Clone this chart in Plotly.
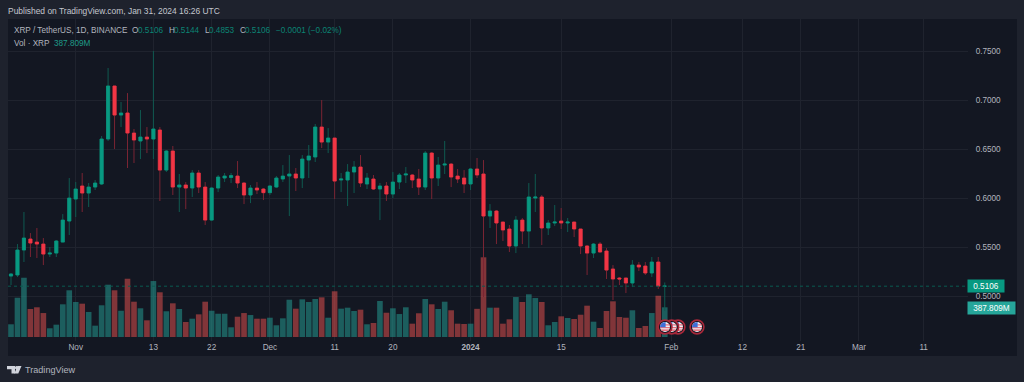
import pandas as pd
import plotly.graph_objects as go

W, H = 1024, 382
L, R, T, B = 8, 968, 19, 341

dates = pd.date_range("2023-10-22", "2024-01-31", freq="D")
open_ = [.5209,.5220,.5474,.5586,.5555,.5535,.5433,.5443,.5555,.5769,
 .5993,.6126,.6054,.6115,.6146,.6604,.7144,.6848,.6869,.6665,.6584,.6624,.6604,.6696,.6288,.6482,.6115,.6136,.6105,.6258,.6115,.5779,.6105,.6207,.6212,.6227,.6156,.6034,.6105,.6095,
 .6058,.6115,.6197,.6227,.6248,.6207,.6390,.6421,.6726,.6573,.6614,.6187,.6187,.6268,.6319,.6146,.6197,.6095,.6126,.6044,.6166,.6238,.6238,.6197,.6115,.6461,.6207,.6339,.6349,.6227,.6207,
 .6146,.6299,.6248,.5820,.5871,.5759,.5688,.5515,.5779,.5667,.6003,.6014,.5698,.5749,.5769,.5749,.5759,.5688,.5515,.5443,.5535,.5464,.5281,.5189,.5189,.5138,.5321,.5311,.5240,.5352,.5106]
high = [.5240,.5535,.5861,.5647,.5698,.5596,.5505,.5576,.5840,.6207,
 .6166,.6258,.6156,.6187,.6635,.7327,.7144,.6981,.7072,.6706,.6899,.6726,.7500,.6726,.6492,.6533,.6248,.6166,.6288,.6288,.6166,.6115,.6238,.6258,.6258,.6380,.6166,.6136,.6166,.6105,
 .6136,.6227,.6339,.6441,.6309,.6441,.6543,.6757,.7001,.6716,.6614,.6258,.6349,.6380,.6441,.6258,.6238,.6156,.6166,.6268,.6258,.6319,.6248,.6299,.6482,.6472,.6421,.6584,.6360,.6299,.6288,
 .6309,.6411,.6390,.5942,.5881,.5759,.5729,.5820,.5800,.6156,.6248,.6034,.5779,.5932,.5902,.5800,.5759,.5688,.5525,.5545,.5555,.5494,.5321,.5199,.5189,.5372,.5352,.5352,.5403,.5403,.5144]
low = [.5118,.5199,.5352,.5403,.5393,.5321,.5403,.5403,.5555,.5627,
 .5810,.5861,.5912,.6085,.6136,.6584,.6502,.6726,.6309,.6360,.6400,.6461,.6400,.5973,.6268,.6034,.5861,.5891,.6014,.6054,.5729,.5769,.6064,.6166,.6156,.6105,.5942,.5952,.6044,.5983,
 .6034,.6105,.6166,.5820,.6075,.6105,.6207,.6370,.6512,.6461,.5993,.6064,.5922,.6054,.6115,.6095,.6085,.5779,.5973,.6003,.6095,.6156,.6105,.6034,.6085,.5993,.6126,.6248,.6115,.6156,.6054,
 .6085,.6207,.4996,.5698,.5535,.5566,.5454,.5443,.5535,.5494,.5861,.5525,.5627,.5718,.5688,.5657,.5606,.5433,.5220,.5393,.5449,.5179,.4965,.5118,.5036,.5097,.5260,.5220,.5199,.5077,.4853]
close = [.5230,.5474,.5596,.5545,.5535,.5433,.5443,.5566,.5779,.6003,
 .6095,.6054,.6115,.6156,.6604,.7144,.6848,.6869,.6665,.6594,.6624,.6604,.6706,.6288,.6482,.6115,.6136,.6105,.6258,.6115,.5779,.6105,.6217,.6227,.6232,.6156,.6034,.6105,.6085,.6058,
 .6126,.6207,.6227,.6248,.6207,.6400,.6431,.6726,.6573,.6614,.6176,.6197,.6268,.6319,.6156,.6207,.6095,.6126,.6044,.6166,.6238,.6248,.6187,.6115,.6461,.6207,.6339,.6349,.6217,.6197,.6146,
 .6299,.6238,.5820,.5871,.5749,.5678,.5515,.5779,.5667,.6014,.6014,.5698,.5749,.5759,.5749,.5759,.5688,.5515,.5443,.5535,.5454,.5270,.5179,.5179,.5138,.5321,.5301,.5240,.5352,.5107,.51061]
volume_m = [166,513,774,366,388,313,114,161,427,610,
 457,435,327,148,414,683,610,343,761,461,375,218,731,584,336,440,366,196,239,296,461,343,304,304,127,265,313,287,239,239,
 252,153,244,487,370,492,457,496,518,252,597,370,383,340,357,166,183,470,317,375,300,388,174,310,496,427,366,461,349,174,170,
 174,368,1041,383,383,174,231,522,457,558,509,457,153,196,270,248,235,291,409,200,118,340,466,261,252,349,118,144,313,539,387.809]

price_ticks = [.50,.55,.60,.65,.70,.75]
time_ticks = ["2023-11-01","2023-11-13","2023-11-22","2023-12-01","2023-12-11","2023-12-20","2024-01-01","2024-01-15","2024-02-01","2024-02-12","2024-02-21","2024-03-01","2024-03-11"]
time_labels = ["Nov","13","22","Dec","11","20","<b>2024</b>","15","Feb","12","21","Mar","11"]
last_price = 0.5106

BG, PANE = "#1e222d", "#131722"
UP, DOWN = "#089981", "#f23645"
UP_W, DOWN_W = "#0f5a50", "#7a2433"
GRID = "#1f232e"
TXT = "#b2b5be"
FONT = "Liberation Sans"

def px(x): return (x - L) / (R - L)
def py(y): return (B - y) / (B - T)

fig = go.Figure()
colors = ["rgba(38,166,154,0.5)" if c >= o else "rgba(239,83,80,0.5)" for o, c in zip(open_, close)]
fig.add_bar(x=dates, y=volume_m, marker=dict(color=colors, line_width=0), yaxis="y", hoverinfo="skip", showlegend=False)
fig.add_candlestick(x=dates, open=open_, high=high, low=low, close=close, yaxis="y2", whiskerwidth=0, showlegend=False, hoverinfo="skip",
    increasing=dict(line=dict(color=UP_W, width=1), fillcolor=UP_W),
    decreasing=dict(line=dict(color=DOWN_W, width=1), fillcolor=DOWN_W))
fig.add_candlestick(x=dates, open=open_, close=close,
    high=[max(o, c) for o, c in zip(open_, close)], low=[min(o, c) for o, c in zip(open_, close)],
    yaxis="y2", whiskerwidth=0, showlegend=False, hoverinfo="skip",
    increasing=dict(line=dict(color=UP, width=0.6), fillcolor=UP),
    decreasing=dict(line=dict(color=DOWN, width=0.6), fillcolor=DOWN))

shapes = [
    dict(type="rect", xref="paper", yref="paper", x0=px(8), x1=px(1017), y0=py(356), y1=py(19), fillcolor=PANE, line_width=0, layer="below"),
    dict(type="line", xref="paper", yref="y2", x0=0, x1=1, y0=last_price, y1=last_price, line=dict(color="#0a5a50", width=1, dash="dot"), layer="above"),
]
def poly(pts, fill):
    d = "M" + " L".join(f"{px(a):.5f},{py(b):.5f}" for a, b in pts) + " Z"
    return dict(type="path", xref="paper", yref="paper", path=d, fillcolor=fill, line_width=0, layer="above")
def circle(cx, cy, r, fill, line=None, lw=0):
    return dict(type="circle", xref="paper", yref="paper", x0=px(cx-r), x1=px(cx+r), y0=py(cy+r), y1=py(cy-r), fillcolor=fill, line=dict(color=line or fill, width=lw), layer="above")
shapes += [poly([(7,366),(15,366),(15,373.5),(11.5,373.5),(11.5,369.3),(7,369.3)], "#d1d4dc"),
           circle(16.6,367.7,1.7,"#d1d4dc"),
           poly([(17.5,366),(21.5,366),(18.3,373.5),(14.3,373.5)], "#d1d4dc")]
for cx in [697, 678, 671.7, 665]:
    cy = 327
    shapes.append(circle(cx, cy, 6.9, PANE, "#a8283a", 1.6))
    shapes.append(circle(cx, cy, 5, "#eceef4"))
    shapes.append(poly([(cx-4.8,cy-2.6),(cx+4.8,cy-2.6),(cx+4.8,cy-1.6),(cx-4.8,cy-1.6)], "#e8505e"))
    shapes.append(poly([(cx-5,cy+.2),(cx+5,cy+.2),(cx+5,cy+1.2),(cx-5,cy+1.2)], "#e8505e"))
    shapes.append(poly([(cx-4.2,cy+2.6),(cx+4.2,cy+2.6),(cx+3,cy+3.7),(cx-3,cy+3.7)], "#e8505e"))
    shapes.append(poly([(cx-4.6,cy-1.8),(cx-2.6,cy-4.2),(cx+.6,cy-5),(cx+.6,cy+.2),(cx-5,cy+.2)], "#3d6fd8"))

ann = []
def text(x, y, t, color=TXT, size=8.2, anchor="left", bg=None, **kw):
    a = dict(xref="paper", yref="paper", x=px(x), y=py(y), text=t, showarrow=False, xanchor=anchor, yanchor="middle",
             font=dict(family=FONT, size=size, color=color), borderpad=0, align="left")
    if bg: a["bgcolor"] = bg
    a.update(kw)
    ann.append(a)

text(7, 11, "Published on TradingView.com, Jan 31, 2024 16:26 UTC", "#c3c6ce", 8.45)
text(13, 30.5, "XRP / TetherUS, 1D, BINANCE", TXT)
GV = "#0b8474"
for x, t, c in [(131,"O",TXT),(137,"0.5106",GV),(168,"H",TXT),(173,"0.5144",GV),(204,"L",TXT),(208,"0.4853",GV),(239,"C",TXT),(244,"0.5106",GV),(275,"−0.0001 (−0.02%)",GV)]:
    text(x, 30.5, t, c)
text(13, 43, "Vol · XRP", TXT)
text(53, 43, "387.809M", "#1e9a88")
text(24, 370, "TradingView", "#b2b5be", 9.1)
ann.append(dict(xref="paper", yref="paper", x=px(986), y=py(286.3), text="0.5106", showarrow=False, xanchor="center", yanchor="middle",
    font=dict(family=FONT, size=8.2, color="#ffffff"), width=36, height=12, bgcolor="#089981", borderpad=0))
ann.append(dict(xref="paper", yref="paper", x=px(991.5), y=py(308), text="387.809M", showarrow=False, xanchor="center", yanchor="middle",
    font=dict(family=FONT, size=8.2, color="#ffffff"), width=47, height=12, bgcolor="#26a69a", borderpad=0))

fig.update_layout(
    width=W, height=H, autosize=False,
    margin=dict(l=L, r=W-R, t=T, b=H-B, pad=0),
    paper_bgcolor=BG, plot_bgcolor=PANE, showlegend=False,
    bargap=0.13, boxgap=0.3, boxmode="overlay",
    shapes=shapes, annotations=ann,
    xaxis=dict(type="date", range=["2023-10-21 12:53", "2024-03-17 20:24"], tickmode="array", tickvals=time_ticks, ticktext=time_labels,
               tickangle=0, showgrid=True, gridcolor=GRID, gridwidth=1, zeroline=False, showline=False, ticks="", rangeslider=dict(visible=False),
               tickfont=dict(family=FONT, size=8.2, color=TXT)),
    yaxis=dict(range=[-52.2, 4153], visible=False, showgrid=False, zeroline=False, fixedrange=True),
    yaxis2=dict(range=[.4548, .7826], overlaying="y", side="right", anchor="x", tickmode="array", tickvals=price_ticks, tickformat=".4f",
                showgrid=True, gridcolor=GRID, gridwidth=1, zeroline=False, showline=False, ticks="outside", ticklen=5, tickcolor="rgba(0,0,0,0)",
                tickfont=dict(family=FONT, size=8.2, color=TXT)),
)
fig.write_html("out.html", config=dict(displayModeBar=False),
               post_script="document.documentElement.style.background='#1e222d';document.body.style.margin='0';document.body.style.overflow='hidden';")
